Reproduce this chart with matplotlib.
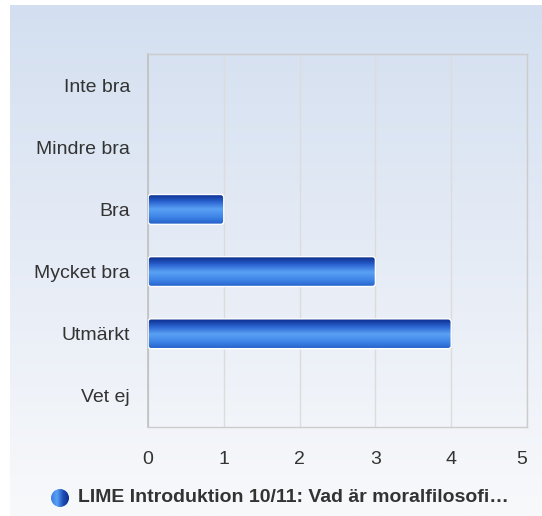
import numpy as np
import matplotlib.pyplot as plt
from matplotlib.patches import FancyBboxPatch, Circle
from matplotlib.colors import LinearSegmentedColormap

plt.rcParams['font.family'] = ['Liberation Sans', 'DejaVu Sans']

# Data
categories = ['Inte bra', 'Mindre bra', 'Bra', 'Mycket bra', 'Utmärkt', 'Vet ej']
values = [0, 0, 1, 3, 4, 0]
series_name = 'LIME Introduktion 10/11: Vad är moralfilosofi…'
xticks = [0, 1, 2, 3, 4, 5]

W, H = 542, 516
fig = plt.figure(figsize=(W / 100, H / 100), dpi=100)
fig.patch.set_facecolor('white')

# background gradient panel
bg = fig.add_axes([10 / W, 0, 532 / W, 511 / H], zorder=-10)
bg_cmap = LinearSegmentedColormap.from_list('bg', ['#d3dff0', '#e6ecf6', '#f8f9fb'])
bg.imshow(np.linspace(0, 1, 256).reshape(-1, 1), aspect='auto', cmap=bg_cmap,
          extent=[0, 1, 0, 1], origin='upper')
bg.set_axis_off()

# main axes
ax = fig.add_axes([148 / W, (H - 427) / H, 379 / W, 373 / H])
ax.patch.set_alpha(0)

bar_cmap = LinearSegmentedColormap.from_list(
    'bar', ['#0b2d8c', '#2a62d0', '#5aa2f5', '#3f86e8', '#2460c8'])
grad = np.linspace(0, 1, 256).reshape(-1, 1)
bh = 0.48
for i, v in enumerate(values):
    if v <= 0:
        continue
    patch = FancyBboxPatch((0, i - bh / 2), v, bh,
                           boxstyle='round,pad=0,rounding_size=0.04',
                           mutation_aspect=1.2, facecolor='none',
                           edgecolor='white', linewidth=1.0, zorder=3)
    ax.add_patch(patch)
    im = ax.imshow(grad, aspect='auto', cmap=bar_cmap,
                   extent=[0, v, i + bh / 2, i - bh / 2], origin='upper', zorder=2)
    im.set_clip_path(patch)
ax.set_xlim(0, 5)
ax.set_ylim(len(categories) - 0.5, -0.5)
ax.set_aspect('auto')

ax.set_xticks(xticks)
ax.set_xticklabels([str(t) for t in xticks])
ax.set_yticks(range(len(categories)))
ax.set_yticklabels(categories)
ax.tick_params(axis='x', length=0, pad=17, labelsize=14, labelcolor='#333333')
ax.tick_params(axis='y', length=0, pad=13, labelsize=14, labelcolor='#333333')
ax.get_xticklabels()[-1].set_ha('right')

ax.grid(axis='x', color='#dcdcdc', linewidth=1)
ax.set_axisbelow(True)
for s in ['top', 'right', 'bottom']:
    ax.spines[s].set_color('#cccccc')
    ax.spines[s].set_linewidth(1)
ax.spines['left'].set_color('#c0c0c0')
ax.spines['left'].set_linewidth(1.2)

# legend: gradient circle + text
la = fig.add_axes([51 / W, (H - 507) / H, 18 / W, 18 / H])
la.set_xlim(0, 1)
la.set_ylim(0, 1)
la.set_axis_off()
leg_cmap = LinearSegmentedColormap.from_list('leg', ['#3b7be0', '#5aa2f5', '#1d4fb8', '#0b2d8c'])
circ = Circle((0.5, 0.5), 0.5, transform=la.transData, facecolor='none', edgecolor='none')
la.add_patch(circ)
lim = la.imshow(np.linspace(0, 1, 256).reshape(1, -1), aspect='auto', cmap=leg_cmap,
                extent=[0, 1, 0, 1])
lim.set_clip_path(circ)

fig.text(78 / W, (H - 498) / H, series_name, fontsize=14, fontweight='bold',
         color='#333333', ha='left', va='center')

fig.savefig('out.png', dpi=100)
